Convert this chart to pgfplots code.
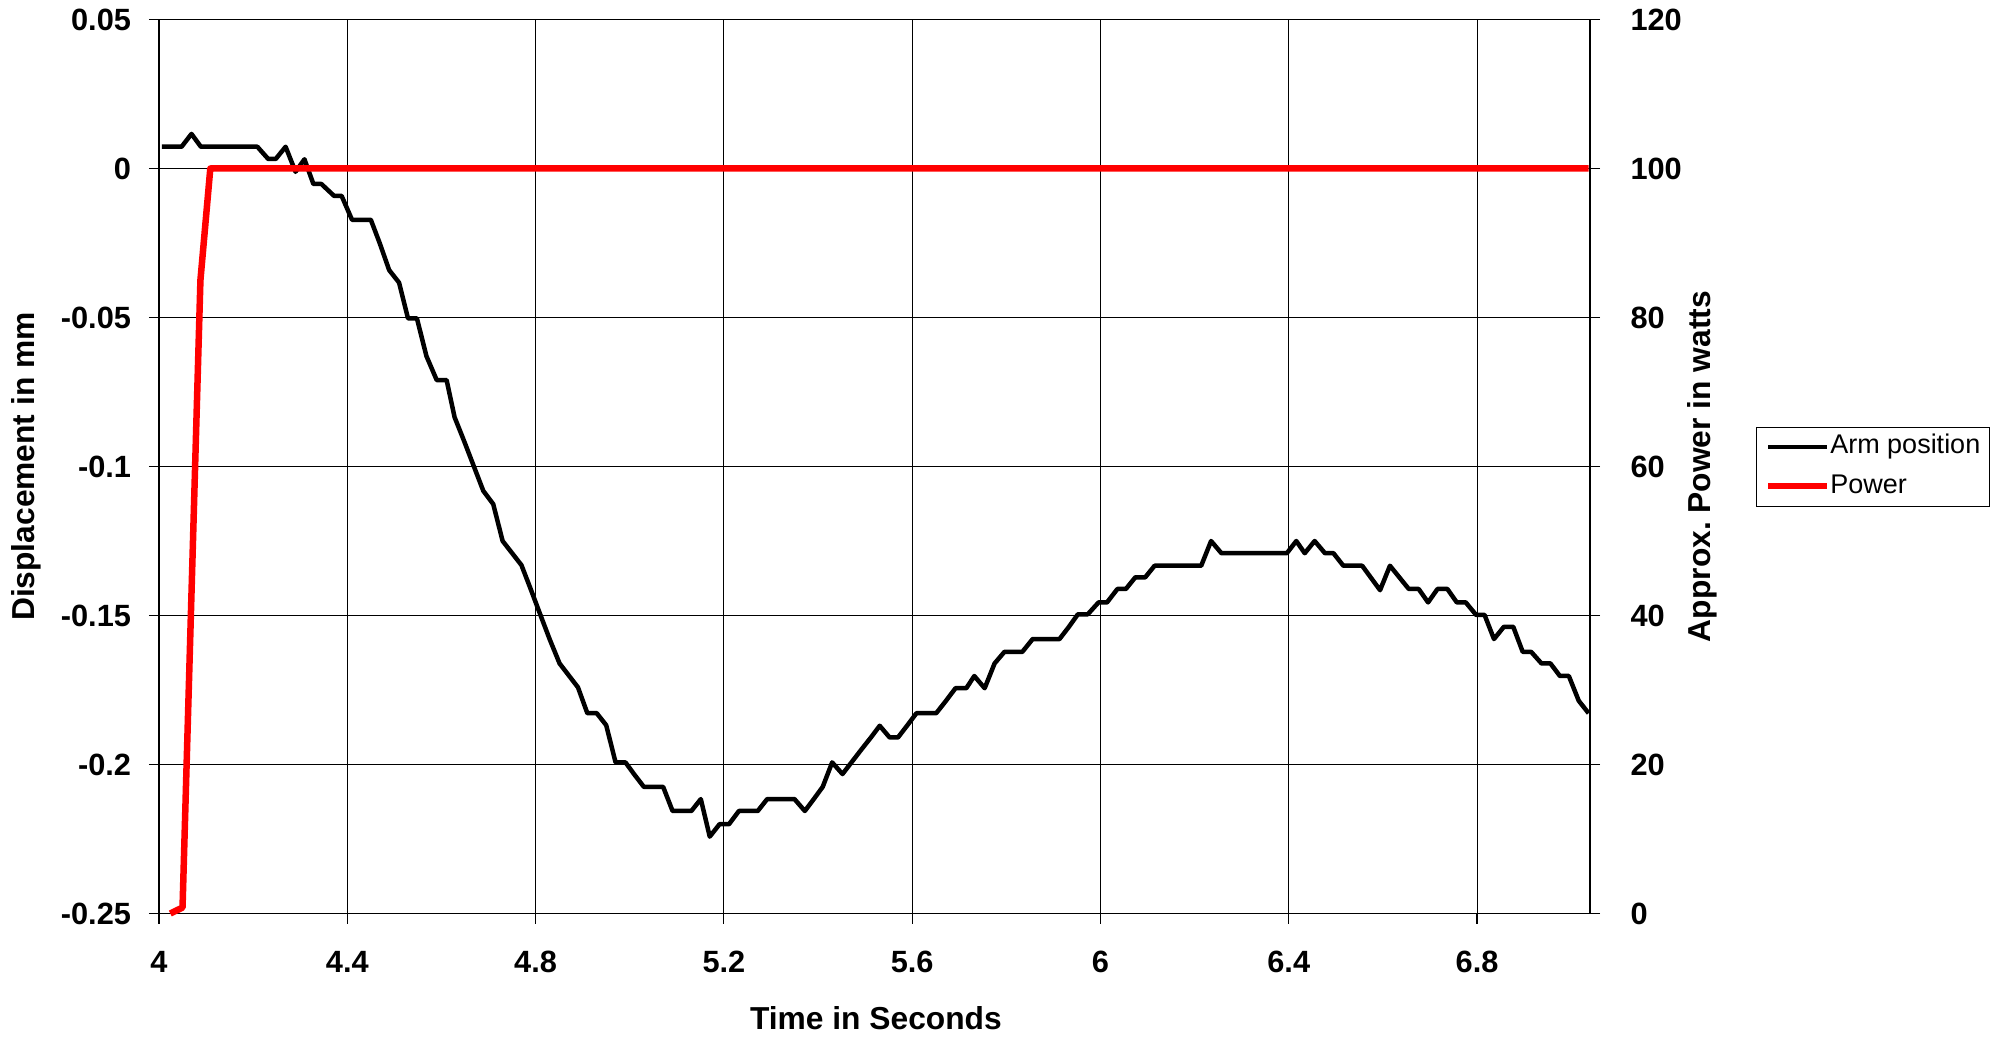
\documentclass[border=0pt]{standalone}
\usepackage{fontspec}
\setmainfont{Liberation Sans}
\usepackage{pgfplots}
\pgfplotsset{compat=1.18}
\definecolor{pwr}{RGB}{255,0,0}
\tikzset{tlab/.style={font=\fontsize{12.3}{14}\selectfont\bfseries},
  albl/.style={font=\fontsize{12.7}{15}\selectfont\bfseries}}
\begin{document}
\begin{tikzpicture}
\begin{axis}[scale only axis, width=572.4pt, height=357.6pt, clip=false,
  xmin=4, xmax=7.04, ymin=-0.25, ymax=0.05,
  xtick={4,4.4,4.8,5.2,5.6,6,6.4,6.8}, xticklabels={4,4.4,4.8,5.2,5.6,6,6.4,6.8},
  ytick={-0.25,-0.2,-0.15,-0.1,-0.05,0,0.05}, yticklabels={-0.25,-0.2,-0.15,-0.1,-0.05,0,0.05},
  scaled y ticks=false, xtick pos=left, ytick pos=left, tick align=outside, major tick length=4pt,
  grid=major, major grid style={black, line width=0.4pt},
  axis line style={black, line width=0.5pt}, every tick/.style={black, line width=0.5pt},
  ticklabel style={tlab},
  xticklabel style={anchor=north, inner sep=0pt, yshift=-11pt},
  yticklabel style={anchor=east, inner sep=0pt, xshift=-7pt},
  xlabel={Time in Seconds}, ylabel={Displacement in mm},
  xlabel style={albl, at={(axis description cs:0.501,-0.117)}, anchor=center},
  ylabel style={albl, at={(axis description cs:-0.0925,0.5)}, anchor=center, rotate=0},
  legend style={at={(axis description cs:1.116,0.5445)}, anchor=north west, draw=black, line width=0.4pt,
    font=\fontsize{10.8}{12}\selectfont, inner xsep=3.5pt, inner ysep=3pt, row sep=5.7pt,
    nodes={inner sep=0pt, text height=7.7pt, text depth=2.3pt}, cells={anchor=west}},
  legend image code/.code={\draw[#1] (0pt,0pt) -- (23.6pt,0pt);},
]
\addplot[black, line width=1.8pt, line join=round, forget plot] coordinates {
(4.006,0.0073) (4.048,0.0073) (4.069,0.0116) (4.089,0.0073) (4.209,0.0073) (4.232,0.0032)
(4.248,0.0032) (4.269,0.0073) (4.290,-0.0011) (4.309,0.0031) (4.328,-0.0052) (4.345,-0.0052)
(4.372,-0.0092) (4.388,-0.0092) (4.410,-0.0172) (4.450,-0.0172) (4.469,-0.0251) (4.489,-0.0341)
(4.510,-0.0383) (4.529,-0.0503) (4.548,-0.0503) (4.568,-0.0629) (4.590,-0.0710) (4.611,-0.0710)
(4.628,-0.0835) (4.649,-0.0918) (4.669,-0.1000) (4.689,-0.1082) (4.710,-0.1126) (4.730,-0.1250)
(4.770,-0.1331) (4.790,-0.1413) (4.810,-0.1497) (4.830,-0.1580) (4.851,-0.1661) (4.890,-0.1741)
(4.910,-0.1828) (4.930,-0.1828) (4.950,-0.1868) (4.970,-0.1993) (4.991,-0.1993) (5.010,-0.2034)
(5.030,-0.2075) (5.071,-0.2075) (5.091,-0.2156) (5.131,-0.2156) (5.151,-0.2116) (5.170,-0.2242)
(5.191,-0.2200) (5.211,-0.2200) (5.232,-0.2156) (5.272,-0.2156) (5.292,-0.2116) (5.350,-0.2116)
(5.372,-0.2156) (5.391,-0.2116) (5.410,-0.2075) (5.430,-0.1993) (5.452,-0.2032) (5.472,-0.1991)
(5.492,-0.1950) (5.512,-0.1910) (5.531,-0.1870) (5.552,-0.1909) (5.570,-0.1909) (5.590,-0.1868)
(5.609,-0.1828) (5.651,-0.1828) (5.672,-0.1786) (5.692,-0.1744) (5.715,-0.1744) (5.732,-0.1703)
(5.754,-0.1744) (5.775,-0.1661) (5.796,-0.1622) (5.834,-0.1622) (5.856,-0.1579) (5.913,-0.1579)
(5.933,-0.1538) (5.952,-0.1496) (5.973,-0.1496) (5.996,-0.1456) (6.014,-0.1456) (6.036,-0.1411)
(6.054,-0.1411) (6.074,-0.1372) (6.095,-0.1372) (6.115,-0.1333) (6.214,-0.1333) (6.235,-0.1250)
(6.257,-0.1291) (6.396,-0.1291) (6.416,-0.1250) (6.434,-0.1291) (6.455,-0.1250) (6.477,-0.1291)
(6.495,-0.1291) (6.516,-0.1333) (6.556,-0.1333) (6.575,-0.1374) (6.594,-0.1415) (6.615,-0.1333)
(6.635,-0.1372) (6.655,-0.1411) (6.676,-0.1411) (6.696,-0.1456) (6.716,-0.1411) (6.737,-0.1411)
(6.757,-0.1456) (6.776,-0.1456) (6.798,-0.1498) (6.816,-0.1498) (6.836,-0.1579) (6.857,-0.1538)
(6.877,-0.1538) (6.897,-0.1622) (6.915,-0.1622) (6.937,-0.1661) (6.956,-0.1661) (6.976,-0.1703)
(6.995,-0.1703) (7.016,-0.1786) (7.037,-0.1828)};
\addlegendimage{black, line width=1.6pt}
\addlegendentry{Arm position}
\addlegendimage{pwr, line width=2.4pt}
\addlegendentry{Power}
\end{axis}
\begin{axis}[scale only axis, width=572.4pt, height=357.6pt, clip=false,
  xmin=4, xmax=7.04, ymin=0, ymax=120,
  axis x line=none, axis y line*=right,
  ytick={0,20,40,60,80,100,120}, yticklabels={0,20,40,60,80,100,120},
  tick align=outside, major tick length=4pt,
  axis line style={black, line width=0.5pt}, every tick/.style={black, line width=0.5pt},
  ticklabel style={tlab},
  yticklabel style={anchor=west, inner sep=0pt, xshift=12pt},
  ylabel={Approx.\ Power in watts},
  ylabel style={albl, at={(axis description cs:1.0786,0.5)}, anchor=center, rotate=0},
]
\addplot[pwr, line width=2.6pt, line join=round] coordinates {
(4.024,0) (4.050,0.8) (4.088,85) (4.109,100) (7.037,100)};
\end{axis}
\pgfresetboundingbox
\useasboundingbox (-63.6pt,-49.8pt) rectangle (734.8pt,365.4pt);
\end{tikzpicture}
\end{document}
